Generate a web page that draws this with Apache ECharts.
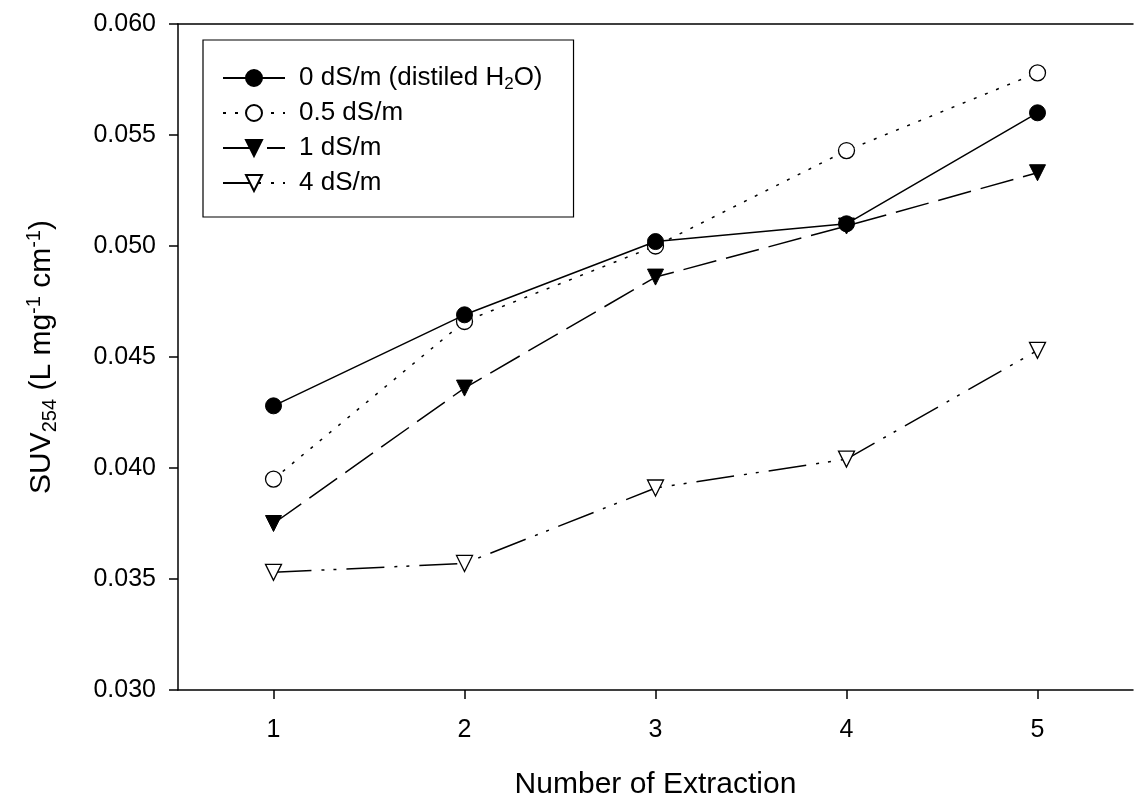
<!DOCTYPE html>
<html>
<head>
<meta charset="utf-8">
<script src="https://cdn.jsdelivr.net/npm/echarts@6/dist/echarts.min.js"></script>
<style>
html,body{margin:0;padding:0;background:#fff;}
#chart{width:1134px;height:805px;}
</style>
</head>
<body>
<div id="chart"></div>
<script>
// ---- data ----
const categories = ['1', '2', '3', '4', '5'];
const seriesNames = ['0 dS/m (distiled H{sub|2}O)', '0.5 dS/m', '1 dS/m', '4 dS/m'];
const s0 = [0.0428, 0.0469, 0.0502, 0.0510, 0.0560]; // 0 dS/m
const s1 = [0.0395, 0.0466, 0.0500, 0.0543, 0.0578]; // 0.5 dS/m
const s2 = [0.0375, 0.0436, 0.0486, 0.0509, 0.0533]; // 1 dS/m
const s3 = [0.0353, 0.0357, 0.0391, 0.0404, 0.0453]; // 4 dS/m
const yTicks = [0.030, 0.035, 0.040, 0.045, 0.050, 0.055, 0.060];

const FONT = 'Liberation Sans, Arial, sans-serif';
const chart = echarts.init(document.getElementById('chart'), null, {renderer: 'canvas'});

function mk(name, data, symbol, rotate, filled, dash) {
  return {
    name: name,
    type: 'line',
    data: data,
    symbol: symbol,
    symbolRotate: rotate,
    symbolSize: 16,
    showAllSymbol: true,
    z: filled ? 3 : 2,
    lineStyle: {color: '#000', width: 1.5, type: dash},
    itemStyle: filled
      ? {color: '#000', borderColor: '#000', borderWidth: 1}
      : {color: '#fff', borderColor: '#000', borderWidth: 1.3, opacity: 1},
    emphasis: {disabled: true},
    animation: false
  };
}

const option = {
  backgroundColor: '#fff',
  animation: false,
  textStyle: {fontFamily: FONT, color: '#000'},
  grid: {left: 178, top: 24, right: 1, bottom: 113, containLabel: false},
  legend: {
    orient: 'vertical',
    left: 203,
    top: 40,
    padding: [23, 31, 19, 19],
    itemGap: 5,
    itemWidth: 62,
    itemHeight: 20,
    borderColor: '#000',
    borderWidth: 1.2,
    data: seriesNames,
    textStyle: {
      fontFamily: FONT, fontSize: 26, color: '#000', lineHeight: 30,
      padding: [0, 0, 0, 9],
      rich: {
        sub: {fontFamily: FONT, fontSize: 17, color: '#000', verticalAlign: 'bottom', padding: [13, 0, 0, 0]}
      }
    },
    selectedMode: false
  },
  xAxis: [{
    type: 'category',
    data: categories,
    boundaryGap: true,
    position: 'bottom',
    name: 'Number of Extraction',
    nameLocation: 'middle',
    nameGap: 80,
    nameTextStyle: {fontFamily: FONT, fontSize: 30, color: '#000'},
    axisLine: {show: true, lineStyle: {color: '#000', width: 1.5}},
    axisTick: {show: true, alignWithLabel: true, inside: false, length: 9, lineStyle: {color: '#000', width: 1.5}},
    axisLabel: {fontFamily: FONT, fontSize: 25, color: '#000', margin: 28},
    splitLine: {show: false}
  }, {
    type: 'category',
    data: categories,
    boundaryGap: true,
    position: 'top',
    axisLine: {show: true, lineStyle: {color: '#000', width: 1.5}},
    axisTick: {show: false},
    axisLabel: {show: false},
    splitLine: {show: false}
  }],
  yAxis: {
    type: 'value',
    min: 0.030,
    max: 0.060,
    interval: 0.005,
    name: 'SUV{sub|254} (L mg{sup|-1} cm{sup|-1})',
    nameLocation: 'middle',
    nameRotate: 90,
    nameGap: 118,
    nameTextStyle: {
      fontFamily: FONT, fontSize: 30, color: '#000', lineHeight: 36,
      rich: {
        sub: {fontFamily: FONT, fontSize: 20, color: '#000', verticalAlign: 'bottom', padding: [14, 0, 0, 0]},
        sup: {fontFamily: FONT, fontSize: 20, color: '#000', verticalAlign: 'top', padding: [0, 0, 14, 0]}
      }
    },
    axisLine: {show: true, lineStyle: {color: '#000', width: 1.5}},
    axisTick: {show: true, inside: false, length: 9, lineStyle: {color: '#000', width: 1.5}},
    axisLabel: {
      fontFamily: FONT, fontSize: 25, color: '#000', margin: 22,
      formatter: function (v) { return v.toFixed(3); }
    },
    splitLine: {show: false}
  },
  series: [
    mk(seriesNames[0], s0, 'circle', 0, true, 'solid'),
    mk(seriesNames[1], s1, 'circle', 0, false, [3, 9]),
    mk(seriesNames[2], s2, 'triangle', 180, true, [34, 10]),
    mk(seriesNames[3], s3, 'triangle', 180, false, [38, 10, 3, 9, 3, 10])
  ]
};
chart.setOption(option);
</script>
</body>
</html>
